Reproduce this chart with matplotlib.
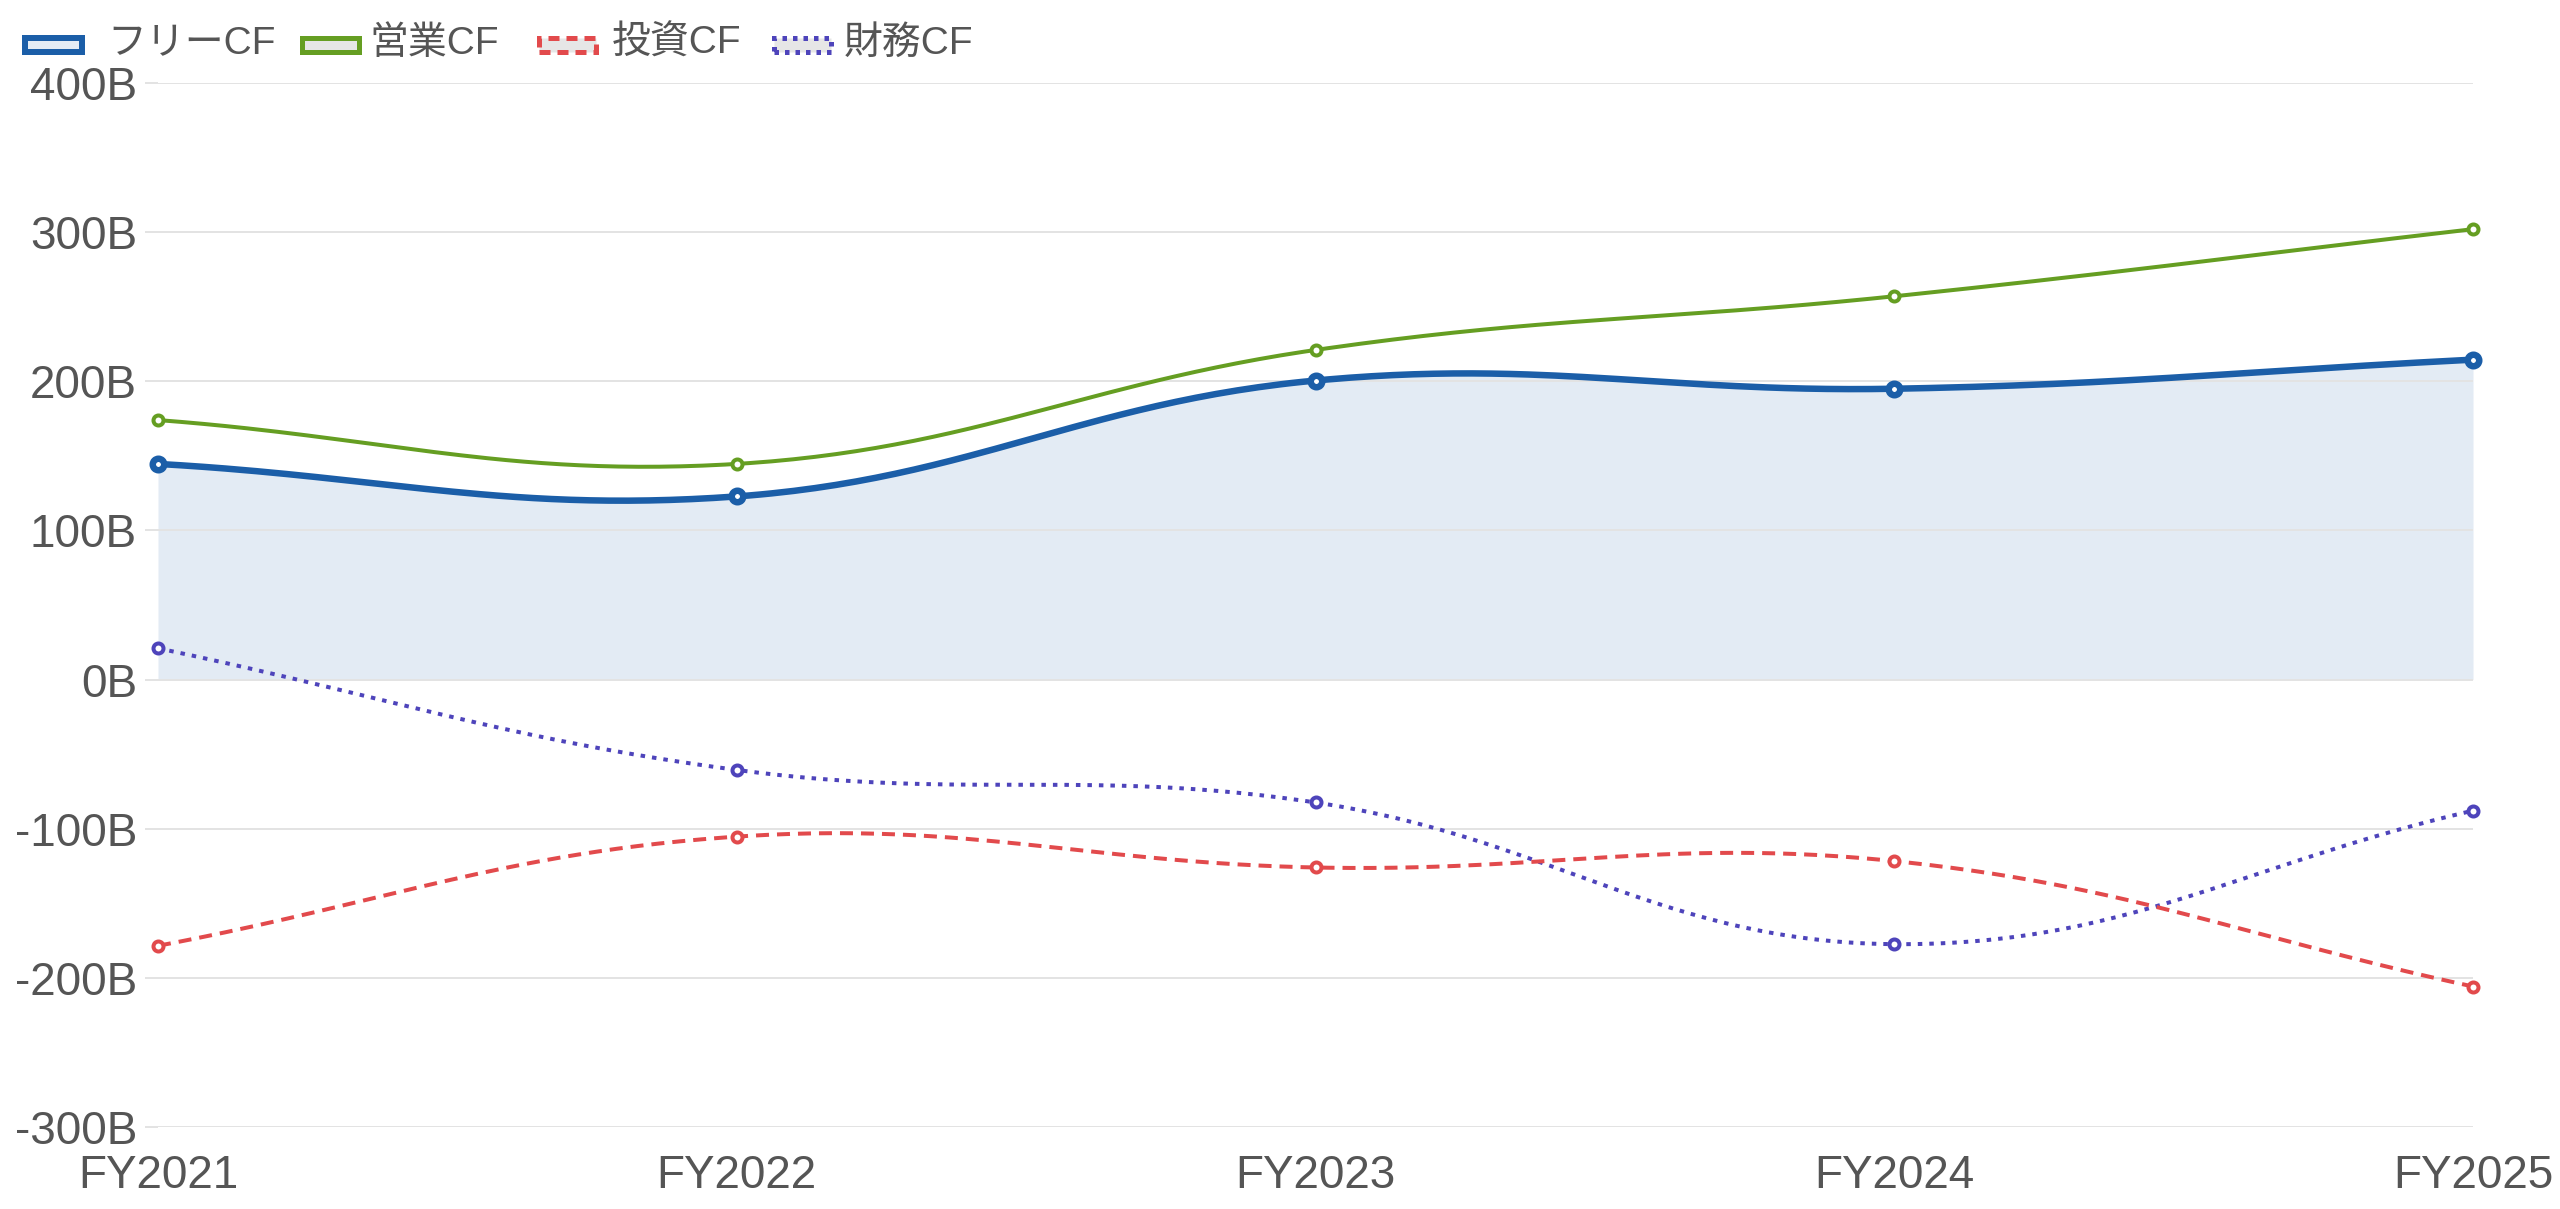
import numpy as np
import matplotlib.pyplot as plt
from matplotlib.patches import Rectangle

plt.rcParams['font.family'] = ['Liberation Sans', 'Noto Sans CJK JP', 'DejaVu Sans']

# データ (単位: 十億円)
years = ['FY2021', 'FY2022', 'FY2023', 'FY2024', 'FY2025']
free_cf = [144.6, 122.8, 200.5, 195.0, 214.5]
op_cf = [174.0, 144.6, 221.0, 257.0, 302.0]
inv_cf = [-178.5, -105.3, -126.0, -121.7, -205.8]
fin_cf = [21.0, -60.6, -82.4, -177.4, -87.9]
labels = ['フリーCF', '営業CF', '投資CF', '財務CF']

W, H, DPI = 2560, 1209, 100
fig = plt.figure(figsize=(W / DPI, H / DPI), dpi=DPI)
ax = fig.add_axes([158 / W, 1 - 1127 / H, (2473 - 158) / W, (1127 - 83) / H])

x = np.arange(len(years))
ax.set_xlim(0, len(years) - 1)
ax.set_ylim(-300, 400)

px = 72 / DPI  # 1 ピクセル -> pt
text_col = '#555555'
grid_col = '#e3e3e3'


def spline(xs, ys, t=0.4, n=60):
    # Chart.js と同じ方式の曲線 (ピクセル座標で計算)
    pts = ax.transData.transform(np.column_stack([xs, ys]))
    N = len(pts)
    cps = []
    for i in range(N):
        prev, cur, nxt = pts[max(i - 1, 0)], pts[i], pts[min(i + 1, N - 1)]
        d01 = np.hypot(*(cur - prev))
        d12 = np.hypot(*(nxt - cur))
        tot = d01 + d12
        s01 = d01 / tot if tot else 0
        s12 = d12 / tot if tot else 0
        cps.append((cur - t * s01 * (nxt - prev), cur + t * s12 * (nxt - prev)))
    out = []
    s = np.linspace(0, 1, n)[:, None]
    for i in range(N - 1):
        p0, p1, p2, p3 = pts[i], cps[i][1], cps[i + 1][0], pts[i + 1]
        seg = (1 - s) ** 3 * p0 + 3 * (1 - s) ** 2 * s * p1 + 3 * (1 - s) * s ** 2 * p2 + s ** 3 * p3
        out.append(seg if i == 0 else seg[1:])
    c = ax.transData.inverted().transform(np.vstack(out))
    return c[:, 0], c[:, 1]


series = [
    (free_cf, '#1b5ea8', 6.5, (None, None), 9),
    (op_cf, '#659e22', 4, (None, None), 7),
    (inv_cf, '#e24a4c', 4, (13, 8), 7),
    (fin_cf, '#4e44bb', 4, (4.5, 7), 7),
]

for i, (vals, col, lw, dash, r) in enumerate(series):
    cx, cy = spline(x, vals)
    if i == 0:
        ax.fill_between(cx, cy, 0, color=col, alpha=0.12, lw=0, zorder=1)
    line, = ax.plot(cx, cy, color=col, lw=lw * px, zorder=3 + (3 - i) * 0.1,
                    solid_capstyle='butt', dash_capstyle='butt')
    if dash[0] is not None:
        line.set_dashes([dash[0] / lw, dash[1] / lw])
    ax.plot(x, vals, 'o', ls='none', ms=(2 * r - lw) * px, mfc='white', mec=col,
            mew=lw * px, zorder=4, clip_on=False)

ax.set_yticks(np.arange(-300, 401, 100))
ax.set_yticklabels([f'{v}B' for v in range(-300, 401, 100)])
ax.set_xticks(x)
ax.set_xticklabels(years)
ax.grid(axis='y', color=grid_col, lw=2 * px)
ax.grid(axis='x', visible=False)
for sp in ax.spines.values():
    sp.set_visible(False)
ax.tick_params(axis='y', length=13 * px, width=2 * px, color=grid_col, pad=8 * px,
               labelsize=33, labelcolor=text_col)
ax.tick_params(axis='x', length=0, pad=27 * px, labelsize=33, labelcolor=text_col)

# 凡例
leg_items = [
    (22, 107, '#1b5ea8', '#e4ecf5', 6, '-'),
    (299, 369, '#659e22', '#e6e6e6', 5, '-'),
    (536, 612, '#e24a4c', '#e6e6e6', 5, (0, (2.2, 1.4))),
    (771, 844, '#4e44bb', '#e6e6e6', 5, (0, (0.9, 1.2))),
]
for (bx, tx, ec, fc, lw, ls), lab in zip(leg_items, labels):
    rect = Rectangle(((bx + 3) / W, 1 - 52 / H), 57 / W, 14 / H, transform=fig.transFigure,
                     facecolor=fc, edgecolor=ec, lw=lw * px, linestyle=ls)
    fig.patches.append(rect)
    fig.text(tx / W, 1 - 44 / H, lab, fontsize=28, color=text_col, va='center', ha='left')

fig.savefig('out.png', dpi=DPI)
